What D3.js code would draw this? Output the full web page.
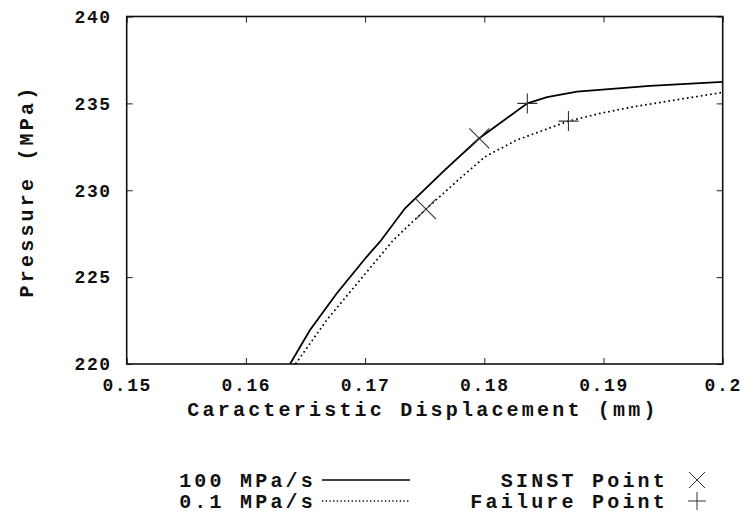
<!DOCTYPE html>
<html>
<head>
<meta charset="utf-8">
<script src="https://cdn.jsdelivr.net/npm/d3@7"></script>
<style>
  body { margin: 0; background: #fff; }
  text { font-family: "Liberation Mono", "DejaVu Sans Mono", monospace; font-weight: bold; fill: #111; }
</style>
</head>
<body>
<svg id="chart" width="753" height="524"></svg>
<script>
// Pressure vs. characteristic displacement for two loading rates
const rate100X = [0.16370, 0.16538, 0.16763, 0.17013, 0.17125, 0.17335, 0.17670, 0.17958, 0.18361, 0.18526, 0.18778, 0.19390, 0.20000];
const rate100Y = [220.00, 221.96, 224.07, 226.17, 227.04, 228.96, 231.17, 232.99, 235.00, 235.36, 235.68, 236.01, 236.24];

const rate01X = [0.16416, 0.16678, 0.16957, 0.17237, 0.17511, 0.17796, 0.18006, 0.18272, 0.18706, 0.18971, 0.19250, 0.20000];
const rate01Y = [220.00, 222.53, 224.83, 227.13, 228.92, 230.68, 231.93, 232.89, 233.98, 234.42, 234.80, 235.63];

// Marked points: [100 MPa/s, 0.1 MPa/s]
const sinstX = [0.17958, 0.17511];
const sinstY = [232.99, 228.92];
const failureX = [0.18361, 0.18706];
const failureY = [235.00, 233.98];

const xTicks = [0.15, 0.16, 0.17, 0.18, 0.19, 0.20];
const xTickLabels = ["0.15", "0.16", "0.17", "0.18", "0.19", "0.2"];
const yTicks = [220, 225, 230, 235, 240];
const yTickLabels = ["220", "225", "230", "235", "240"];

const seriesNames = ["100 MPa/s", "0.1 MPa/s"];
const markerNames = ["SINST Point", "Failure Point"];

const svg = d3.select("#chart");
const plotLeft = 126.7, plotRight = 722.7, plotTop = 16.5, plotBottom = 364;

const x = d3.scaleLinear().domain([0.15, 0.2]).range([plotLeft, plotRight]);
const y = d3.scaleLinear().domain([220, 240]).range([plotBottom, plotTop]);

const tickFont = { size: "18px", spacing: "1.6px" };
const titleFont = { size: "20px", spacing: "3.2px" };

svg.append("clipPath").attr("id", "plotClip")
  .append("rect").attr("x", plotLeft).attr("y", plotTop)
  .attr("width", plotRight - plotLeft).attr("height", plotBottom - plotTop);

// Axes with inward ticks, mirrored on top and right
const gx = svg.append("g").attr("transform", `translate(0,${plotBottom})`)
  .call(d3.axisBottom(x).tickValues(xTicks).tickSize(-6)
    .tickFormat((d, i) => xTickLabels[i]));
gx.selectAll("text").attr("y", 21).attr("dy", "0.35em")
  .style("font-size", tickFont.size).style("letter-spacing", tickFont.spacing);

const gy = svg.append("g").attr("transform", `translate(${plotLeft},0)`)
  .call(d3.axisLeft(y).tickValues(yTicks).tickSize(-6).tickPadding(15)
    .tickFormat((d, i) => yTickLabels[i]));
gy.selectAll("text")
  .style("font-size", tickFont.size).style("letter-spacing", tickFont.spacing);

svg.append("g").attr("transform", `translate(0,${plotTop})`)
  .call(d3.axisTop(x).tickValues(xTicks).tickSize(-6).tickFormat(""));
svg.append("g").attr("transform", `translate(${plotRight},0)`)
  .call(d3.axisRight(y).tickValues(yTicks).tickSize(-6).tickFormat(""));

svg.selectAll(".domain").remove();
svg.selectAll(".tick line").attr("stroke", "#222").attr("stroke-width", 1);
svg.selectAll(".tick text").attr("fill", "#111")
  .style("font-family", "'Liberation Mono', monospace").style("font-weight", "bold");

svg.append("rect").attr("x", plotLeft).attr("y", plotTop)
  .attr("width", plotRight - plotLeft).attr("height", plotBottom - plotTop)
  .attr("fill", "none").attr("stroke", "#111").attr("stroke-width", 1.6);

// Curves
const line = d3.line().x(d => x(d[0])).y(d => y(d[1]));
const plot = svg.append("g").attr("clip-path", "url(#plotClip)");

plot.append("path").datum(rate100X.map((v, i) => [v, rate100Y[i]]))
  .attr("d", line).attr("fill", "none").attr("stroke", "#000").attr("stroke-width", 1.8);
plot.append("path").datum(rate01X.map((v, i) => [v, rate01Y[i]]))
  .attr("d", line).attr("fill", "none").attr("stroke", "#000")
  .attr("stroke-width", 1.7).attr("stroke-dasharray", "1.7,3");

// Markers
const crossPath = (cx, cy, r) => `M${cx - r},${cy - r}L${cx + r},${cy + r}M${cx - r},${cy + r}L${cx + r},${cy - r}`;
const plusPath = (cx, cy, r) => `M${cx - r},${cy}L${cx + r},${cy}M${cx},${cy - r}L${cx},${cy + r}`;

sinstX.forEach((v, i) => {
  svg.append("path").attr("d", crossPath(x(v), y(sinstY[i]), 10))
    .attr("stroke", "#333").attr("stroke-width", 1.1).attr("fill", "none");
});
failureX.forEach((v, i) => {
  svg.append("path").attr("d", plusPath(x(v), y(failureY[i]), 10))
    .attr("stroke", "#333").attr("stroke-width", 1.1).attr("fill", "none");
});

// Axis titles
svg.append("text").attr("x", 423).attr("y", 409).attr("dy", "0.35em")
  .attr("text-anchor", "middle")
  .style("font-size", titleFont.size).style("letter-spacing", titleFont.spacing)
  .text("Caracteristic Displacement (mm)");

svg.append("text").attr("transform", "translate(26,191) rotate(-90)")
  .attr("dy", "0.35em").attr("text-anchor", "middle")
  .style("font-size", titleFont.size).style("letter-spacing", titleFont.spacing)
  .text("Pressure (MPa)");

// Legend
const rows = [480, 501];
rows.forEach((ry, i) => {
  svg.append("text").attr("x", 316).attr("y", ry).attr("dy", "0.35em")
    .attr("text-anchor", "end")
    .style("font-size", titleFont.size).style("letter-spacing", titleFont.spacing)
    .text(seriesNames[i]);
  const ln = svg.append("line").attr("x1", 322).attr("x2", 410)
    .attr("y1", ry).attr("y2", ry).attr("stroke", "#000");
  if (i === 0) ln.attr("stroke-width", 1.5);
  else ln.attr("stroke-width", 1.3).attr("stroke-dasharray", "1.3,2.4");

  svg.append("text").attr("x", 668).attr("y", ry).attr("dy", "0.35em")
    .attr("text-anchor", "end")
    .style("font-size", titleFont.size).style("letter-spacing", titleFont.spacing)
    .text(markerNames[i]);
  const mp = i === 0 ? crossPath(697, ry, 8) : plusPath(697, ry, 9);
  svg.append("path").attr("d", mp).attr("stroke", "#333")
    .attr("stroke-width", 1).attr("fill", "none");
});
</script>
</body>
</html>
